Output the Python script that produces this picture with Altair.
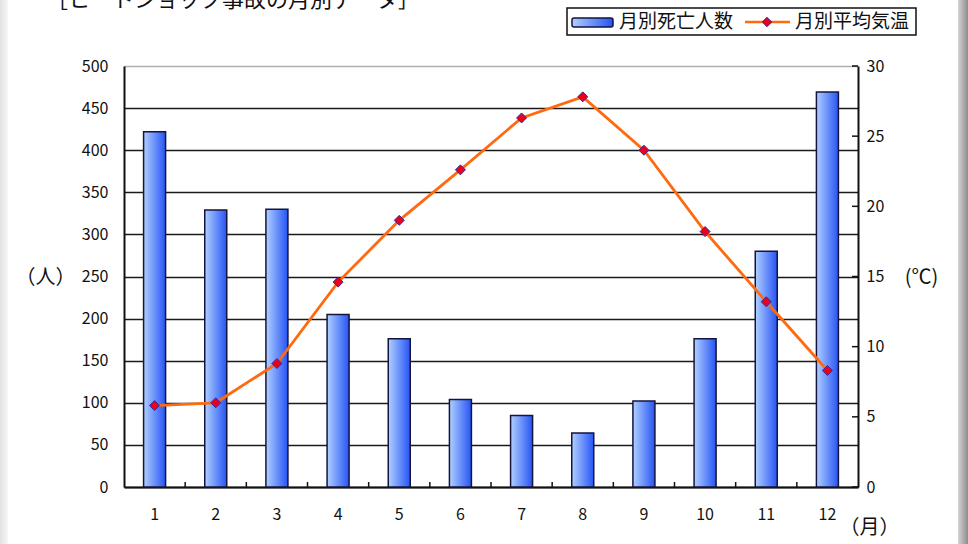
import altair as alt
import pandas as pd

months = list(range(1, 13))
deaths = [422, 329, 330, 205, 176, 104, 85, 64, 102, 176, 280, 469]
temps = [5.8, 6.0, 8.8, 14.6, 19.0, 22.6, 26.3, 27.8, 24.0, 18.2, 13.2, 8.3]
left_ticks = list(range(0, 501, 50))
right_ticks = list(range(0, 31, 5))
title_text = "［ヒートショック事故の月別データ］"
legend_labels = ["月別死亡人数", "月別平均気温"]

FONT = "Noto Sans CJK JP"
W, H = 734, 421

df = pd.DataFrame({"month": months, "deaths": deaths, "temp": temps})
xticks_df = pd.DataFrame({"month": months[1:]})
rt_df = pd.DataFrame({"temp": right_ticks})
one = pd.DataFrame({"a": [0]})

bar_grad = alt.Gradient(
    gradient="linear",
    stops=[alt.GradientStop(color="#b0d0ff", offset=0),
           alt.GradientStop(color="#2654f5", offset=1)],
    x1=0, x2=1, y1=0, y2=0,
)

xenc = alt.X("month:O", title="（月）", scale=alt.Scale(paddingInner=0, paddingOuter=0),
             axis=alt.Axis(labelAngle=0, ticks=False, domainColor="#111", domainWidth=2,
                           labelPadding=19, labelFontSize=16, labelFont=FONT, labelColor="#111",
                           titleFont=FONT, titleFontSize=20, titleFontWeight="normal",
                           titleAngle=0, titleX=W + 11, titleY=40, titleAlign="center",
                           titleBaseline="middle", titleColor="#111"))

bars = alt.Chart(df).mark_bar(size=22, fill=bar_grad, stroke="#14143c", strokeWidth=1.5).encode(
    x=xenc,
    y=alt.Y("deaths:Q", title="（人）", scale=alt.Scale(domain=[0, 500], nice=False),
            axis=alt.Axis(values=left_ticks, grid=True,
                          gridColor={"condition": {"test": "datum.value === 500", "value": "#b0b0b0"}, "value": "#1a1a1a"},
                          gridWidth=1.5, ticks=False, domainColor="#111", domainWidth=2,
                          labelPadding=16, labelFontSize=16, labelFont=FONT, labelColor="#111",
                          titleFont=FONT, titleFontSize=20, titleFontWeight="normal",
                          titleAngle=0, titleX=-79, titleY=211, titleAlign="center",
                          titleBaseline="middle", titleColor="#111")),
)

xtick_marks = alt.Chart(xticks_df).mark_rule(color="#111", strokeWidth=1.5).encode(
    x=alt.X("month:O", bandPosition=0),
    y=alt.value(H - 5), y2=alt.value(H),
)

right_axis = alt.Axis(orient="right", values=right_ticks, grid=False, ticks=False,
                      domainColor="#111", domainWidth=2, labelPadding=8,
                      labelFontSize=16, labelFont=FONT, labelColor="#111",
                      titleFont=FONT, titleFontSize=20, titleFontWeight="normal",
                      titleAngle=0, titleX=63, titleY=211, titleAlign="center",
                      titleBaseline="middle", titleColor="#111")
temp_scale = alt.Scale(domain=[0, 30], nice=False)

line = alt.Chart(df).mark_line(color="#ff6a10", strokeWidth=2.8).encode(
    x="month:O",
    y=alt.Y("temp:Q", title="(℃)", scale=temp_scale, axis=right_axis),
)
points = alt.Chart(df).mark_point(shape="diamond", filled=True, fill="#e8001c",
                                  stroke="#3a2a9a", strokeWidth=1, size=100, opacity=1).encode(
    x="month:O", y=alt.Y("temp:Q", title="(℃)", scale=temp_scale, axis=right_axis),
)
rticks = alt.Chart(rt_df).mark_rule(color="#111", strokeWidth=1.5).encode(
    y=alt.Y("temp:Q", title="(℃)", scale=temp_scale, axis=right_axis),
    x=alt.value(W - 6), x2=alt.value(W),
)

right_layer = alt.layer(line, points, rticks)
left_layer = alt.layer(bars, xtick_marks)

# decorations: title, legend, page edges
title = alt.Chart(one).mark_text(text=title_text, font=FONT, fontSize=22, align="left",
                                 baseline="alphabetic", color="#111").encode(
    x=alt.value(-78), y=alt.value(-59))
legend_box = alt.Chart(one).mark_rect(fill="white", stroke="#111", strokeWidth=1.5).encode(
    x=alt.value(443), x2=alt.value(792), y=alt.value(-58), y2=alt.value(-31))
swatch = alt.Chart(one).mark_rect(fill=bar_grad, stroke="#14143c", strokeWidth=1.5, cornerRadius=2).encode(
    x=alt.value(448), x2=alt.value(489), y=alt.value(-48), y2=alt.value(-39))
leg_t1 = alt.Chart(one).mark_text(text=legend_labels[0], font=FONT, fontSize=19, align="left",
                                  baseline="middle", color="#111").encode(
    x=alt.value(495), y=alt.value(-44))
leg_line = alt.Chart(one).mark_rule(color="#ff6a10", strokeWidth=2.5).encode(
    x=alt.value(621), x2=alt.value(666), y=alt.value(-44))
leg_pt = alt.Chart(one).mark_point(shape="diamond", filled=True, fill="#e8001c",
                                   stroke="#3a2a9a", strokeWidth=1, size=90, opacity=1).encode(
    x=alt.value(643), y=alt.value(-44))
leg_t2 = alt.Chart(one).mark_text(text=legend_labels[1], font=FONT, fontSize=19, align="left",
                                  baseline="middle", color="#111").encode(
    x=alt.value(671), y=alt.value(-44))
edge_l = alt.Chart(one).mark_rect(fill=alt.Gradient(
    gradient="linear", stops=[alt.GradientStop(color="#e2e2e2", offset=0),
                              alt.GradientStop(color="#f6f6f6", offset=1)],
    x1=0, x2=1, y1=0, y2=0)).encode(
    x=alt.value(-124), x2=alt.value(-116), y=alt.value(-66), y2=alt.value(H + 57))
edge_r = alt.Chart(one).mark_rect(fill=alt.Gradient(
    gradient="linear", stops=[alt.GradientStop(color="#d4d4d4", offset=0),
                              alt.GradientStop(color="#8c8c8c", offset=1)],
    x1=0, x2=1, y1=0, y2=0)).encode(
    x=alt.value(834), x2=alt.value(844), y=alt.value(-66), y2=alt.value(H + 57))

deco = alt.layer(edge_l, edge_r, title, legend_box, swatch, leg_t1, leg_line, leg_pt, leg_t2)

chart = alt.layer(left_layer, right_layer, deco).resolve_scale(y="independent").properties(
    width=W, height=H,
    autosize=alt.AutoSizeParams(type="none"),
    padding={"left": 124, "top": 66, "right": 110, "bottom": 57},
    background="white",
).configure_view(stroke=None)

chart.save("out.html", embed_options={"renderer": "svg", "actions": False})
